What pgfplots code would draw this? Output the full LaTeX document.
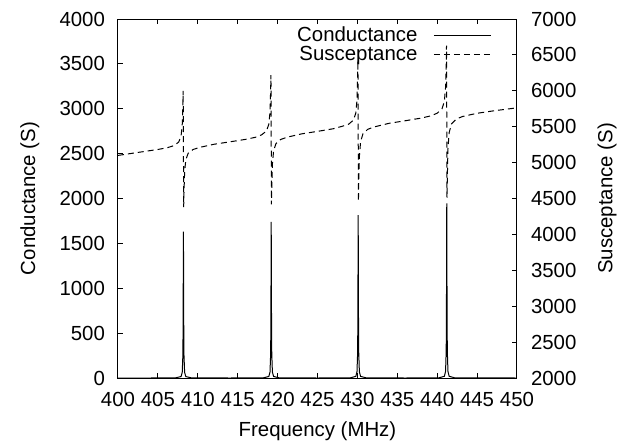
\documentclass[border=0pt]{standalone}
\usepackage{pgfplots}
\pgfplotsset{compat=1.18}
\usepackage{fontspec}
\setmainfont{Liberation Sans}
\begin{document}
\begin{tikzpicture}
\pgfplotsset{
  common/.style={
    scale only axis, width=199.5pt, height=179.5pt,
    at={(0pt,0pt)}, anchor=south west,
    xmin=400, xmax=450,
    font=\fontsize{10.2}{12}\selectfont,
    /pgf/number format/assume math mode=true,
    /pgf/number format/1000 sep={},
    major tick length=2.5pt, tick align=inside,
    every tick/.style={black, line width=0.5pt},
    axis line style={line width=0.5pt},
    xtick={400,405,...,450},
    xticklabel style={yshift=-3.5pt},
    clip=true,
  }
}
\useasboundingbox (-59pt,-34.5pt) rectangle (255.5pt,189pt);
\begin{axis}[common,
  ymin=0, ymax=4000, ytick={0,500,...,4000},
  ytick pos=left, xtick pos=both, xticklabel pos=bottom,
  yticklabel style={xshift=-3pt},
  xlabel={Frequency (MHz)},
  ylabel={Conductance (S)},
  xlabel style={at={(axis description cs:0.5,-0.1476)}, anchor=center},
  ylabel style={at={(axis description cs:-0.221,0.5)}, anchor=center, rotate=0},
  legend style={at={(axis description cs:0.937,0.99)}, anchor=north east, draw=none, fill=none, inner sep=0pt, row sep=-3.5pt, font=\fontsize{10.2}{12}\selectfont},
  legend cell align=right, legend plot pos=right,
  legend image code/.code={\path (0pt,0pt); \draw[#1] (6pt,0pt) -- (34.5pt,0pt);},
]
\addplot[black, line width=0.5pt] coordinates {
(400,0) (404,0) (407.2,1.5) (407.9,16) (408.05,62) (408.13,253) (408.16,587) (408.18,1125) (408.2,1630) (408.22,1125) (408.24,587) (408.27,253) (408.35,62) (408.5,16) (409.2,1.5)
(414,0) (418.2,1.6) (418.9,17) (419.05,66) (419.13,270) (419.16,626) (419.18,1200) (419.2,1740) (419.22,1200) (419.24,626) (419.27,270) (419.35,66) (419.5,17) (420.2,1.6)
(425,0) (429.1,1.6) (429.8,18) (429.95,69) (430.03,281) (430.06,653) (430.08,1252) (430.1,1815) (430.12,1252) (430.14,653) (430.17,281) (430.25,69) (430.4,18) (431.1,1.6)
(436,0) (440.2,1.8) (440.9,19) (441.05,74) (441.13,301) (441.16,700) (441.18,1342) (441.2,1945) (441.22,1342) (441.24,700) (441.27,301) (441.35,74) (441.5,19) (442.2,1.8)
(450,0)
};
\addlegendentry{Conductance}
\addlegendimage{black, line width=0.5pt, dash pattern=on 3pt off 2pt}
\addlegendentry{Susceptance}
\end{axis}
\begin{axis}[common,
  ymin=2000, ymax=7000, ytick={2000,2500,...,7000},
  hide x axis,
  ytick pos=right, yticklabel pos=right,
  yticklabel style={xshift=3.5pt},
  ylabel={Susceptance (S)},
  ylabel style={at={(axis description cs:1.226,0.5)}, anchor=center, rotate=0},
]
\addplot[black, line width=0.5pt, dash pattern=on 3pt off 2pt] coordinates {
(400,5100) (403,5150) (405,5183) (406.2,5208) (407.0,5236) (407.6,5285) (407.9,5366) (408.05,5528) (408.13,5812) (408.17,6000) (408.2,5210) (408.23,4380) (408.27,4578) (408.35,4876) (408.5,5041) (408.8,5131) (409.4,5182) (410.2,5211)
(412,5255) (414,5289) (416,5324)
(417.2,5352) (418.0,5387) (418.6,5440) (418.9,5533) (419.05,5704) (419.13,6014) (419.17,6220) (419.2,5357) (419.23,4420) (419.27,4642) (419.35,4980) (419.5,5166) (419.8,5265) (420.4,5323) (421.2,5354)
(423,5400) (425,5435) (427,5472)
(428.1,5506) (428.9,5535) (429.5,5591) (429.8,5689) (429.95,5871) (430.03,6199) (430.07,6420) (430.1,5503) (430.13,4460) (430.17,4712) (430.25,5085) (430.4,5291) (430.7,5402) (431.3,5464) (432.1,5497)
(434,5548) (436,5583) (438,5620)
(439.2,5651) (440.0,5688) (440.6,5747) (440.9,5852) (441.05,6046) (441.13,6397) (441.17,6630) (441.2,5652) (441.23,4510) (441.27,4782) (441.35,5191) (441.5,5418) (441.8,5540) (442.4,5607) (443.2,5643)
(445,5687) (447,5720) (450,5763)
};
\end{axis}
\end{tikzpicture}
\end{document}
